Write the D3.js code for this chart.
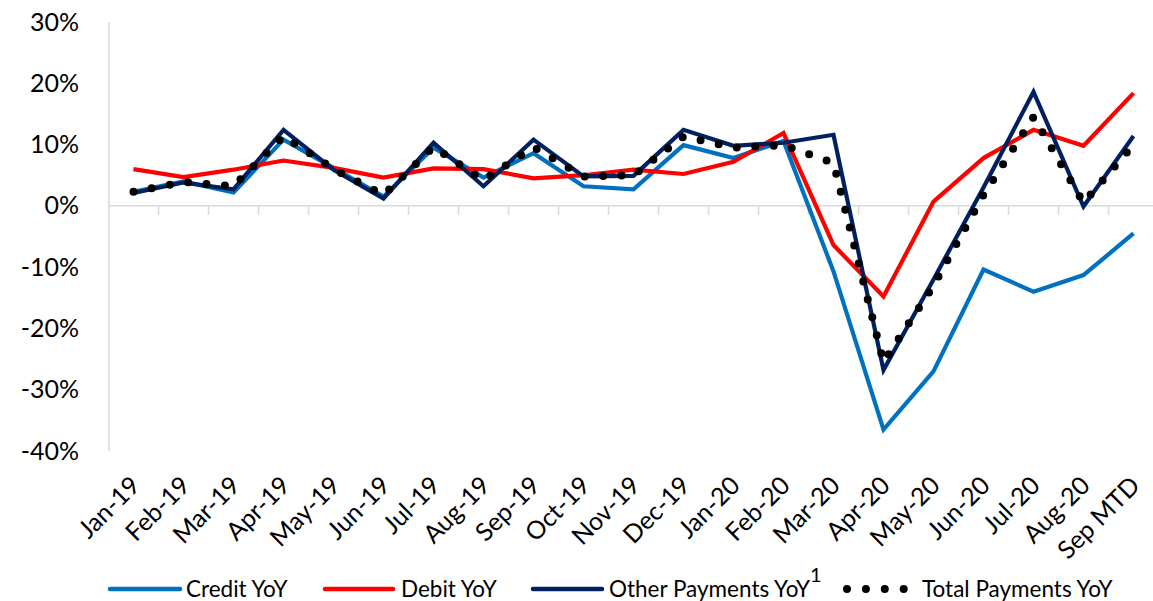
<!DOCTYPE html>
<html>
<head>
<meta charset="utf-8">
<script src="https://cdn.jsdelivr.net/npm/d3@7"></script>
<style>
  html, body { margin: 0; padding: 0; background: #fff; }
  svg { display: block; }
  text { font-family: Lato, "Open Sans", sans-serif; fill: #000; }
</style>
</head>
<body>
<svg id="chart" width="1153" height="601"></svg>
<script>
const categories = ["Jan-19","Feb-19","Mar-19","Apr-19","May-19","Jun-19","Jul-19","Aug-19","Sep-19","Oct-19","Nov-19","Dec-19","Jan-20","Feb-20","Mar-20","Apr-20","May-20","Jun-20","Jul-20","Aug-20","Sep MTD"];
const creditYoY = [2.3, 4.0, 2.2, 10.8, 6.2, 1.5, 9.5, 4.6, 8.6, 3.2, 2.7, 9.9, 7.8, 10.6, -10.7, -36.5, -27.0, -10.4, -14.0, -11.3, -4.5];
const debitYoY  = [6.0, 4.7, 5.9, 7.4, 6.2, 4.6, 6.1, 6.0, 4.5, 5.0, 5.9, 5.2, 7.2, 11.9, -6.4, -14.8, 0.7, 7.8, 12.4, 9.8, 18.4];
const otherYoY  = [2.1, 3.8, 2.7, 12.4, 5.9, 1.2, 10.3, 3.2, 10.8, 4.8, 4.9, 12.4, 9.8, 10.3, 11.6, -26.8, -12.0, 3.0, 18.6, -0.1, 11.4];
const totalYoY  = [2.3, 3.9, 3.2, 11.4, 6.0, 1.8, 9.6, 4.2, 9.6, 4.8, 5.0, 11.3, 9.5, 9.9, 7.0, -25.5, -13.0, 1.8, 14.5, 0.5, 10.0];
const yTicks = [30, 20, 10, 0, -10, -20, -30, -40];
const seriesNames = ["Credit YoY", "Debit YoY", "Other Payments YoY", "Total Payments YoY"];

const svg = d3.select("#chart");
const x = d3.scaleBand().domain(categories).range([108.5, 1158.5]).padding(0);
const cx = c => x(c) + x.bandwidth() / 2;
const y = d3.scaleLinear().domain([-40, 30]).range([451, 22]);

// Y axis line
svg.append("line")
  .attr("x1", 109).attr("x2", 109)
  .attr("y1", y(30)).attr("y2", y(-40))
  .attr("stroke", "#d9d9d9").attr("stroke-width", 1.5);

// Y axis labels
const yAxis = d3.axisLeft(y).tickValues(yTicks).tickFormat(d => d + "%").tickSize(0).tickPadding(0);
const gy = svg.append("g").attr("transform", "translate(79,0)").call(yAxis);
gy.select(".domain").remove();
gy.selectAll("text").attr("font-size", 25).attr("font-family", "Lato, sans-serif").attr("fill", "#000");

// Zero line with ticks
svg.append("line")
  .attr("x1", 109).attr("x2", 1153)
  .attr("y1", y(0)).attr("y2", y(0))
  .attr("stroke", "#d9d9d9").attr("stroke-width", 1.5);
svg.append("g").selectAll("line").data(categories.slice(1))
  .join("line")
  .attr("x1", d => x(d)).attr("x2", d => x(d))
  .attr("y1", y(0)).attr("y2", y(0) + 9)
  .attr("stroke", "#d9d9d9").attr("stroke-width", 1.5);

// X labels
svg.append("g").selectAll("text").data(categories)
  .join("text")
  .attr("transform", d => `translate(${cx(d) + 8},${487}) rotate(-45)`)
  .attr("text-anchor", "end")
  .attr("font-size", 25)
  .text(d => d);

const line = d3.line().x((d, i) => cx(categories[i])).y(d => y(d));

const series = [
  { vals: creditYoY, color: "#0070C0" },
  { vals: debitYoY, color: "#FF0000" },
  { vals: otherYoY, color: "#002060" }
];
series.forEach(s => {
  svg.append("path").datum(s.vals)
    .attr("d", line)
    .attr("fill", "none")
    .attr("stroke", s.color)
    .attr("stroke-width", 4.2)
    .attr("stroke-linejoin", "miter");
});
svg.append("path").datum(totalYoY)
  .attr("d", line)
  .attr("fill", "none")
  .attr("stroke", "#000")
  .attr("stroke-width", 8)
  .attr("stroke-linecap", "round")
  .attr("stroke-dasharray", "0 18.5");

// Legend
const lg = svg.append("g");
const legendItems = [
  { name: seriesNames[0], color: "#0070C0", x1: 110, x2: 180, tx: 186 },
  { name: seriesNames[1], color: "#FF0000", x1: 325, x2: 393, tx: 401 },
  { name: seriesNames[2], color: "#002060", x1: 533, x2: 602, tx: 609 }
];
legendItems.forEach(it => {
  lg.append("line").attr("x1", it.x1).attr("x2", it.x2).attr("y1", 589).attr("y2", 589)
    .attr("stroke", it.color).attr("stroke-width", 4.5).attr("stroke-linecap", "round");
  lg.append("text").attr("x", it.tx).attr("y", 597).attr("font-size", 22.5).text(it.name);
});
lg.append("text").attr("x", 810).attr("y", 582).attr("font-size", 20).text("1");
lg.append("line").attr("x1", 847).attr("x2", 904).attr("y1", 589).attr("y2", 589)
  .attr("stroke", "#000").attr("stroke-width", 8).attr("stroke-linecap", "round")
  .attr("stroke-dasharray", "0 18.9");
lg.append("text").attr("x", 922).attr("y", 597).attr("font-size", 22.5).text(seriesNames[3]);
</script>
</body>
</html>
